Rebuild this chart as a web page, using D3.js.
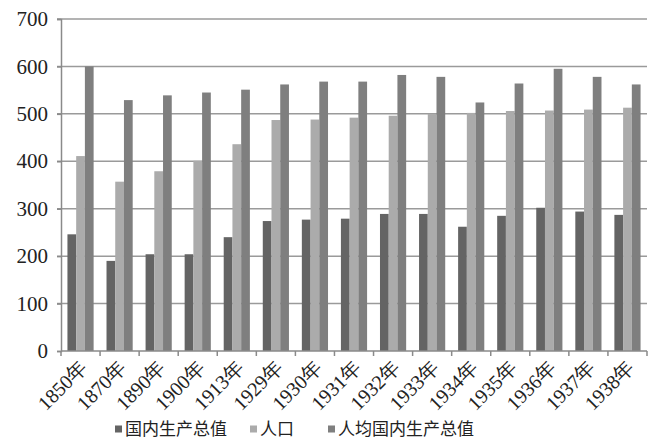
<!DOCTYPE html>
<html><head><meta charset="utf-8">
<script src="https://cdn.jsdelivr.net/npm/d3@7"></script>
<style>body{margin:0;background:#fff}svg{display:block}
.sf{font-family:"Liberation Serif","Tinos","Times New Roman",serif;}
</style>
</head><body>
<svg id="c" width="651" height="444"></svg>
<script>
const categories = ["1850年","1870年","1890年","1900年","1913年","1929年","1930年","1931年","1932年","1933年","1934年","1935年","1936年","1937年","1938年"];
const gdp = [246, 190, 204, 204, 240, 274, 277, 279, 289, 289, 262, 285, 302, 294, 287];
const population = [411, 357, 379, 401, 436, 487, 488, 492, 496, 500, 502, 506, 507, 509, 513];
const perCapita = [600, 529, 539, 545, 551, 562, 568, 568, 582, 578, 524, 564, 595, 578, 562];
const seriesNames = ["国内生产总值", "人口", "人均国内生产总值"];
const yTicks = [0, 100, 200, 300, 400, 500, 600, 700];
const colors = ["#646464", "#ababab", "#7f7f7f"];

(function () {
const series = [gdp, population, perCapita];
const svg = d3.select("#c");
const mLeft = 61, mRight = 647, mTop = 19, mBottom = 351;

const x = d3.scaleBand().domain(categories).range([mLeft, mRight]).paddingInner(0.33).paddingOuter(0.165);
const xOuter = d3.scaleBand().domain(categories).range([mLeft, mRight]);
const y = d3.scaleLinear().domain([0, 700]).range([mBottom, mTop]);
const xs = d3.scaleBand().domain(d3.range(3)).range([0, x.bandwidth()]);

svg.append("g").selectAll("line").data(yTicks.filter(d => d > 0)).join("line")
  .attr("x1", mLeft - 4).attr("x2", mRight).attr("y1", d => y(d)).attr("y2", d => y(d))
  .attr("stroke", "#9a9a9a").attr("stroke-width", 1.5);

const ya = svg.append("g").attr("transform", `translate(${mLeft},0)`)
  .call(d3.axisLeft(y).tickValues(yTicks).tickSize(4).tickFormat(""));
ya.select(".domain").attr("stroke", "#8a8a8a").attr("stroke-width", 1.5);
ya.selectAll(".tick line").attr("stroke", "#8a8a8a").attr("stroke-width", 1.5);
ya.selectAll(".tick text").remove();
svg.append("g").selectAll("text").data(yTicks).join("text")
  .attr("class", "sf")
  .attr("x", mLeft - 13).attr("y", d => y(d)).attr("dy", "0.34em")
  .attr("text-anchor", "end").attr("font-size", 21).attr("fill", "#222")
  .text(d => d);

const groups = svg.append("g").selectAll("g").data(categories).join("g")
  .attr("transform", d => `translate(${x(d)},0)`);
groups.selectAll("rect").data((d, i) => series.map((s, k) => ({k, v: s[i]}))).join("rect")
  .attr("x", d => xs(d.k)).attr("width", xs.bandwidth())
  .attr("y", d => y(d.v)).attr("height", d => mBottom - y(d.v))
  .attr("fill", d => colors[d.k]);

const xa = svg.append("g").attr("transform", `translate(0,${mBottom})`);
xa.append("line").attr("x1", mLeft).attr("x2", mRight).attr("y1", 0).attr("y2", 0)
  .attr("stroke", "#8a8a8a").attr("stroke-width", 1.5);
const tickXs = categories.map(c => xOuter(c)).concat([mRight]);
xa.selectAll("line.t").data(tickXs).join("line").attr("class", "t")
  .attr("x1", d => d).attr("x2", d => d).attr("y1", 0).attr("y2", 5)
  .attr("stroke", "#8a8a8a").attr("stroke-width", 1.5);
xa.selectAll("text").data(categories).join("text")
  .attr("class", "sf")
  .attr("transform", d => `translate(${xOuter(d) + xOuter.bandwidth() / 2 + 3},${13}) rotate(-45)`)
  .attr("text-anchor", "end").attr("dy", "0.35em")
  .attr("font-size", 20).attr("fill", "#222")
  .text(d => d);

const legendX = [115, 250, 328];
const lg = svg.append("g").selectAll("g").data(seriesNames).join("g")
  .attr("transform", (d, i) => `translate(${legendX[i]},429)`);
lg.append("rect").attr("x", 0).attr("y", -3.5).attr("width", 7).attr("height", 7)
  .attr("fill", (d, i) => colors[i]);
lg.append("text").attr("x", 10).attr("dy", "0.35em")
  .attr("font-family", "Noto Sans CJK SC, sans-serif").attr("font-size", 17).attr("fill", "#222")
  .text(d => d);
})();
</script>
</body></html>
